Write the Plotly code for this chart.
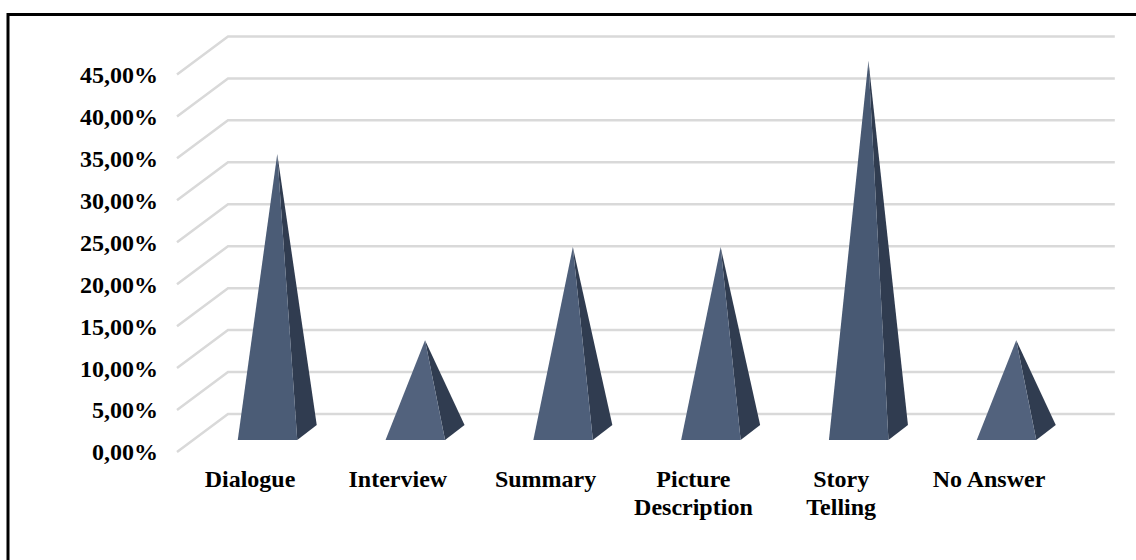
import plotly.graph_objects as go

# Share of each text type, in percent
categories = ["Dialogue", "Interview", "Summary", "Picture<br>Description", "Story<br>Telling", "No Answer"]
values = [33.33, 11.11, 22.22, 22.22, 44.44, 11.11]
tick_values = [0, 5, 10, 15, 20, 25, 30, 35, 40, 45]
tick_labels = ["0,00%", "5,00%", "10,00%", "15,00%", "20,00%", "25,00%",
               "30,00%", "35,00%", "40,00%", "45,00%"]

WIDTH, HEIGHT = 1136, 560
PLOT_LEFT, PLOT_BOTTOM = 177, 452        # pixel position of the front axis corner
SLOT = 147.8                             # pixels per category
FIRST_CENTER = 250                       # pixel centre of the first category
UNIT = 8.39                              # pixels per percentage point
LABEL_TOP = 462                          # pixel top of the first category label line
LABEL_LEADING = 28                       # pixels between category label lines

# Oblique projection of the chart's floor and back wall
WALL_DX = 51 / SLOT
WALL_DY = 38 / UNIT
BASE_X = 17.5 / SLOT                     # base front edge centre vs. category centre
BASE_Y = 12 / UNIT                       # base front edge height above the floor line
BASE_W = 59.5 / SLOT
BASE_DX = 19.5 / SLOT
BASE_DY = 15 / UNIT

GRID = "#d9d9d9"
RIGHT_FACE = "#303c50"
FONT = dict(family="Liberation Serif", size=24, color="black")

x_left = (PLOT_LEFT - FIRST_CENTER) / SLOT
x_front_right = x_left + len(categories)
x_range = [-FIRST_CENTER / SLOT, (WIDTH - FIRST_CENTER) / SLOT]
slots = list(range(len(categories)))

fig = go.Figure()

# Floor-to-wall gridlines: a short diagonal, then along the back wall
for v in tick_values:
    fig.add_trace(go.Scatter(
        x=[x_left, x_left + WALL_DX, x_front_right + WALL_DX],
        y=[v, v + WALL_DY, v + WALL_DY],
        mode="lines", line=dict(color=GRID, width=2.5), hoverinfo="skip", showlegend=False,
    ))

# One pyramid per category: a front face and a shaded right face
for i, (name, v) in enumerate(zip(categories, values)):
    fx0 = i + BASE_X - BASE_W / 2
    fx1 = i + BASE_X + BASE_W / 2
    apex_x = (fx0 + fx1 + BASE_DX) / 2
    apex_y = BASE_Y + BASE_DY * 0.43 + v
    shade = 1 - v / 44.44
    r, g, b = [round(a + (c - a) * shade) for a, c in zip((0x48, 0x59, 0x73), (0x55, 0x65, 0x80))]
    fig.add_trace(go.Scatter(
        x=[fx1, fx1 + BASE_DX, apex_x, fx1], y=[BASE_Y, BASE_Y + BASE_DY, apex_y, BASE_Y],
        mode="lines", fill="toself", fillcolor=RIGHT_FACE, line=dict(width=0),
        name=name, showlegend=False, hoverinfo="skip",
    ))
    fig.add_trace(go.Scatter(
        x=[fx0, fx1, apex_x, fx0], y=[BASE_Y, BASE_Y, apex_y, BASE_Y],
        mode="lines", fill="toself", fillcolor=f"rgb({r},{g},{b})", line=dict(width=0),
        name=name, showlegend=False, hoverinfo="skip",
    ))

# Carrier for the axis that draws the second line of the two-line labels
fig.add_trace(go.Scatter(x=slots, y=[0] * len(slots), xaxis="x2", mode="none",
                         hoverinfo="skip", showlegend=False))

first_lines = [c.split("<br>")[0] for c in categories]
second_lines = [c.split("<br>")[1] if "<br>" in c else "" for c in categories]


def category_axis(lines, top):
    return dict(
        domain=[0, 1], range=x_range,
        anchor="free", position=(HEIGHT - top) / HEIGHT,
        tickmode="array", tickvals=slots,
        ticktext=[f"<b>{t}</b>" if t else " " for t in lines],
        tickangle=0, showgrid=False, zeroline=False, showline=False, ticks="",
        automargin=False,
    )


fig.update_layout(
    width=WIDTH, height=HEIGHT,
    margin=dict(l=0, r=0, t=0, b=0, pad=0),
    paper_bgcolor="white", plot_bgcolor="white",
    font=FONT,
    showlegend=False,
    xaxis=category_axis(first_lines, LABEL_TOP),
    xaxis2=dict(category_axis(second_lines, LABEL_TOP + LABEL_LEADING), overlaying="x"),
    yaxis=dict(
        domain=[0, 1],
        range=[(PLOT_BOTTOM - HEIGHT) / UNIT, PLOT_BOTTOM / UNIT],
        anchor="free", position=158 / WIDTH,
        tickmode="array", tickvals=tick_values,
        ticktext=[f"<b>{t}</b>" for t in tick_labels],
        showgrid=False, zeroline=False, showline=False, ticks="",
        automargin=False,
    ),
    shapes=[
        # Outer frame: only the top and left edges fall inside the canvas
        dict(type="line", xref="paper", yref="paper",
             x0=8 / WIDTH, x1=1,
             y0=1 - 14.5 / HEIGHT, y1=1 - 14.5 / HEIGHT,
             line=dict(color="black", width=3)),
        dict(type="line", xref="paper", yref="paper",
             x0=8 / WIDTH, x1=8 / WIDTH,
             y0=0, y1=1 - 13 / HEIGHT,
             line=dict(color="black", width=3)),
    ],
)

fig.write_html("out.html", config=dict(displayModeBar=False))
